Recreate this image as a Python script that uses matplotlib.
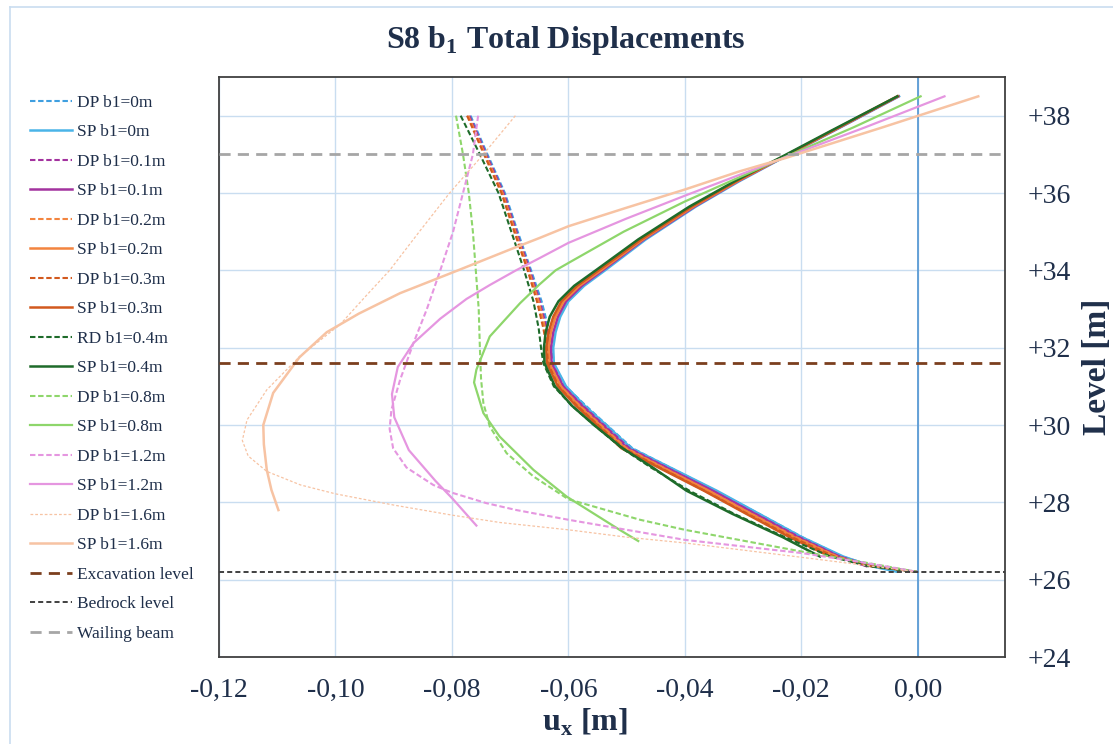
import matplotlib
matplotlib.use("Agg")
import matplotlib.pyplot as plt
from matplotlib.lines import Line2D

plt.rcParams['font.family'] = ['Liberation Serif', 'DejaVu Serif']
plt.rcParams['mathtext.fontset'] = 'custom'
plt.rcParams['mathtext.rm'] = 'Liberation Serif'
plt.rcParams['mathtext.bf'] = 'Liberation Serif:bold'

# ---- data (x = u_x [m], y = level [m]) ----
# group b1 = 0 ... 0.4, single prop (SP)
y_sp = [38.5, 37.6, 36.94, 36.3, 35.65, 34.8, 34.0, 33.6, 33.2, 32.8, 32.4, 32.0, 31.6, 31.0,
        30.5, 30.0, 29.4, 28.9, 28.3, 27.7, 27.1, 26.6, 26.35, 26.21]
sp0_x = [-0.0032, -0.0145, -0.0228, -0.0307, -0.0381, -0.0467, -0.0537, -0.0573, -0.0600, -0.0614, -0.0622, -0.0626,
         -0.0625, -0.0604, -0.0572, -0.0535, -0.0492, -0.0425, -0.0345, -0.0272, -0.0199, -0.0128, -0.0080, -0.0037]
sp01_x = [-0.0033, -0.0146, -0.0229, -0.0309, -0.0383, -0.0470, -0.0541, -0.0577, -0.0604, -0.0618, -0.0626, -0.0630,
          -0.0629, -0.0609, -0.0577, -0.0541, -0.0498, -0.0432, -0.0352, -0.0279, -0.0206, -0.0135, -0.0088]
sp02_x = [-0.0034, -0.0147, -0.0230, -0.0310, -0.0385, -0.0472, -0.0544, -0.0581, -0.0608, -0.0622, -0.0630, -0.0634,
          -0.0633, -0.0613, -0.0582, -0.0546, -0.0503, -0.0438, -0.0359, -0.0286, -0.0212, -0.0140]
sp03_x = [-0.0035, -0.0148, -0.0231, -0.0312, -0.0388, -0.0475, -0.0548, -0.0585, -0.0612, -0.0626, -0.0634, -0.0638,
          -0.0637, -0.0618, -0.0587, -0.0551, -0.0509, -0.0445, -0.0367, -0.0294, -0.0220, -0.0150]
sp04_x = [-0.0035, -0.0150, -0.0233, -0.0315, -0.0392, -0.0480, -0.0553, -0.0590, -0.0617, -0.0632, -0.0639, -0.0642,
          -0.0641, -0.0623, -0.0594, -0.0556, -0.0507, -0.0455, -0.0397, -0.0318, -0.0232, -0.0168]

# group b1 = 0 ... 0.4, double prop (DP)
y_dp = [38.0, 37.0, 36.0, 35.0, 34.0, 33.2, 32.5, 32.0, 31.6, 31.0, 30.5, 30.0,
        29.4, 28.9, 28.3, 27.7, 27.1, 26.6, 26.35, 26.2]
dp0_x = [-0.0768, -0.0739, -0.0709, -0.0687, -0.0664, -0.0646, -0.0634, -0.0628, -0.0625, -0.0605, -0.0570, -0.0534,
         -0.0490, -0.0425, -0.0347, -0.0272, -0.0198, -0.0130, -0.0075, 0.0]
dp01_x = [-0.0770, -0.0741, -0.0711, -0.0689, -0.0666, -0.0649, -0.0637, -0.0631, -0.0628, -0.0609, -0.0575, -0.0539,
          -0.0495, -0.0431, -0.0353, -0.0278, -0.0203, -0.0134, -0.0078, 0.0]
dp02_x = [-0.0772, -0.0743, -0.0713, -0.0691, -0.0668, -0.0651, -0.0640, -0.0634, -0.0632, -0.0613, -0.0580, -0.0544,
          -0.0500, -0.0437, -0.0359, -0.0285, -0.0209, -0.0138, -0.0080, 0.0]
dp03_x = [-0.0774, -0.0745, -0.0715, -0.0693, -0.0670, -0.0654, -0.0643, -0.0637, -0.0635, -0.0617, -0.0585, -0.0549,
          -0.0505, -0.0443, -0.0366, -0.0292, -0.0216, -0.0143, -0.0082, 0.0]
dp04_x = [-0.0785, -0.0752, -0.0720, -0.0698, -0.0676, -0.0660, -0.0651, -0.0647, -0.0643, -0.0625, -0.0594, -0.0556,
          -0.0508, -0.0458, -0.0392, -0.0315, -0.0228, -0.0150, -0.0085, 0.0]

# b1 = 0.8
sp08_x = [0.0005, -0.0110, -0.0228, -0.0306, -0.0400, -0.0505, -0.0600, -0.0622, -0.0650, -0.0683, -0.0735, -0.0758,
          -0.0762, -0.0746, -0.0718, -0.0660, -0.0603, -0.0512, -0.0480]
sp08_y = [38.5, 37.7, 36.93, 36.41, 35.78, 35.0, 34.19, 34.0, 33.63, 33.15, 32.29, 31.43,
          31.1, 30.31, 29.7, 28.84, 28.15, 27.29, 27.0]
dp08_x = [-0.0793, -0.0781, -0.0771, -0.0764, -0.0759, -0.0754, -0.0752, -0.0750, -0.0746, -0.0735, -0.0706, -0.0660,
          -0.0600, -0.0477, -0.0400, -0.0300, -0.0200, -0.0100, 0.0]
dp08_y = [38.0, 37.0, 36.0, 35.0, 34.0, 33.0, 32.0, 31.2, 30.57, 29.96, 29.27, 28.67,
          28.08, 27.55, 27.29, 27.01, 26.73, 26.47, 26.2]

# b1 = 1.2
sp12_x = [0.0046, -0.0090, -0.0228, -0.0306, -0.0400, -0.0500, -0.0600, -0.0649, -0.0690, -0.0735, -0.0775, -0.0820,
          -0.0866, -0.0893, -0.0903, -0.0899, -0.0874, -0.0828, -0.0798, -0.0758]
sp12_y = [38.5, 37.7, 36.92, 36.47, 35.93, 35.34, 34.71, 34.32, 34.0, 33.62, 33.26, 32.75,
          32.12, 31.5, 30.8, 30.2, 29.35, 28.55, 28.08, 27.4]
dp12_x = [-0.0755, -0.0764, -0.0781, -0.0798, -0.0820, -0.0843, -0.0866, -0.0889, -0.0904, -0.0907, -0.0901, -0.0878,
          -0.0832, -0.0800, -0.0741, -0.0689, -0.0632, -0.0600, -0.0500, -0.0400, -0.0200, -0.0100, 0.0]
dp12_y = [38.0, 37.0, 36.0, 35.0, 34.0, 33.0, 32.12, 31.17, 30.39, 29.9, 29.4, 28.9,
          28.45, 28.25, 27.98, 27.8, 27.64, 27.55, 27.29, 27.03, 26.69, 26.46, 26.2]

# b1 = 1.6
sp16_x = [0.0104, -0.0060, -0.0228, -0.0306, -0.0400, -0.0500, -0.0600, -0.0649, -0.0700, -0.0793, -0.0889, -0.0960,
          -0.1015, -0.1062, -0.1107, -0.1124, -0.1123, -0.1118, -0.1110, -0.1098]
sp16_y = [38.5, 37.7, 36.9, 36.56, 36.09, 35.62, 35.14, 34.84, 34.54, 33.98, 33.41, 32.88,
          32.4, 31.75, 30.83, 30.0, 29.5, 28.84, 28.32, 27.8]
dp16_x = [-0.0691, -0.0746, -0.0804, -0.0856, -0.0907, -0.0950, -0.0992, -0.1061, -0.1118, -0.1152, -0.1160, -0.1150,
          -0.1118, -0.1060, -0.1000, -0.0900, -0.0800, -0.0718, -0.0600, -0.0500, -0.0400, -0.0200, 0.0]
dp16_y = [38.0, 37.0, 36.0, 35.0, 34.0, 33.3, 32.6, 31.78, 30.91, 30.13, 29.6, 29.2,
          28.8, 28.45, 28.22, 27.93, 27.67, 27.48, 27.29, 27.1, 26.95, 26.58, 26.2]

excavation_level = 31.6
bedrock_level = 26.2
wailing_beam = 37.0

x_ticks = [-0.12, -0.10, -0.08, -0.06, -0.04, -0.02, 0.00]
y_ticks = [24, 26, 28, 30, 32, 34, 36, 38]

# ---- styles ----
navy = '#1F2F4A'
c_b0 = '#3F9FE0'
c_b0s = '#4AB4E8'
c_b01 = '#A3329F'
c_b02 = '#F3843F'
c_b03 = '#D2591E'
c_b04 = '#1E6B2A'
c_b08 = '#8ED66B'
c_b12 = '#E596E0'
c_b16 = '#F7C3A3'
dash = (0, (2.6, 1.3))

fig = plt.figure(figsize=(11.13, 7.44), dpi=100)
ax = fig.add_axes([0.1968, 0.1169, 0.7062, 0.7796])

series = [
    (dp0_x, y_dp, c_b0, dash, 1.5, 'DP b1=0m'),
    (sp0_x, y_sp, c_b0s, '-', 1.8, 'SP b1=0m'),
    (dp01_x, y_dp, c_b01, dash, 1.5, 'DP b1=0.1m'),
    (sp01_x, y_sp[:len(sp01_x)], c_b01, '-', 1.8, 'SP b1=0.1m'),
    (dp02_x, y_dp, c_b02, dash, 1.5, 'DP b1=0.2m'),
    (sp02_x, y_sp[:len(sp02_x)], c_b02, '-', 1.8, 'SP b1=0.2m'),
    (dp03_x, y_dp, c_b03, dash, 1.5, 'DP b1=0.3m'),
    (sp03_x, y_sp[:len(sp03_x)], c_b03, '-', 1.8, 'SP b1=0.3m'),
    (dp04_x, y_dp, c_b04, dash, 1.5, 'RD b1=0.4m'),
    (sp04_x, y_sp[:len(sp04_x)], c_b04, '-', 1.8, 'SP b1=0.4m'),
    (dp08_x, dp08_y, c_b08, dash, 1.5, 'DP b1=0.8m'),
    (sp08_x, sp08_y, c_b08, '-', 1.6, 'SP b1=0.8m'),
    (dp12_x, dp12_y, c_b12, dash, 1.5, 'DP b1=1.2m'),
    (sp12_x, sp12_y, c_b12, '-', 1.6, 'SP b1=1.2m'),
    (dp16_x, dp16_y, c_b16, (0, (2.2, 1.6)), 0.9, 'DP b1=1.6m'),
    (sp16_x, sp16_y, c_b16, '-', 1.8, 'SP b1=1.6m'),
]
for xs, ys, col, ls, lw, lab in series:
    ax.plot(xs, ys, color=col, linestyle=ls, linewidth=lw, label=lab, zorder=3,
            solid_joinstyle='round')

ax.axhline(excavation_level, color='#7B3F1E', linestyle=(0, (4, 2.6)), linewidth=2.0,
           label='Excavation level', zorder=4)
ax.axhline(bedrock_level, color='#404040', linestyle=(0, (2.6, 1.6)), linewidth=1.4,
           label='Bedrock level', zorder=4)
ax.axhline(wailing_beam, color='#A6A6A6', linestyle=(0, (4, 2.6)), linewidth=2.0,
           label='Wailing beam', zorder=4)

ax.axvline(0, color='#5B9BD5', linewidth=1.3, zorder=2)

ax.set_xlim(-0.12, 0.015)
ax.set_ylim(24, 39)
ax.set_xticks(x_ticks)
ax.set_yticks(y_ticks)
ax.set_xticklabels([f"{v:.2f}".replace('.', ',') for v in x_ticks])
ax.set_yticklabels([f"+{v}" for v in y_ticks])
ax.yaxis.tick_right()
ax.yaxis.set_label_position('right')
ax.tick_params(length=0, labelsize=20, labelcolor=navy)
ax.tick_params(axis='x', pad=15)
ax.tick_params(axis='y', pad=16)
ax.grid(True, color='#C9DDF0', linewidth=1.0, zorder=0)
ax.set_axisbelow(True)
for s in ax.spines.values():
    s.set_color('#404040')
    s.set_linewidth(1.3)

ax.set_xlabel(r'u$_\mathbf{x}$ [m]', fontsize=23, fontweight='bold', color=navy)
ax.xaxis.set_label_coords(0.465, -0.085)
ax.set_ylabel('Level [m]', fontsize=24, fontweight='bold', color=navy, labelpad=8)

fig.text(0.5085, 0.946, r'S8 b$_\mathbf{1}$ Total Displacements', fontsize=23,
         fontweight='bold', color=navy, ha='center', va='center')

fig.legend(loc='upper left', bbox_to_anchor=(0.027, 0.873), frameon=False,
           fontsize=12.5, labelcolor=navy, handlelength=2.4, handletextpad=0.3,
           labelspacing=0.77, borderpad=0, borderaxespad=0)

# chart-area border (partially visible)
fig.add_artist(Line2D([0.009, 0.009], [0.0, 0.99], color='#C9DDF0', linewidth=1.2))
fig.add_artist(Line2D([0.009, 1.0], [0.99, 0.99], color='#C9DDF0', linewidth=1.2))

fig.savefig('out.png', dpi=100)
